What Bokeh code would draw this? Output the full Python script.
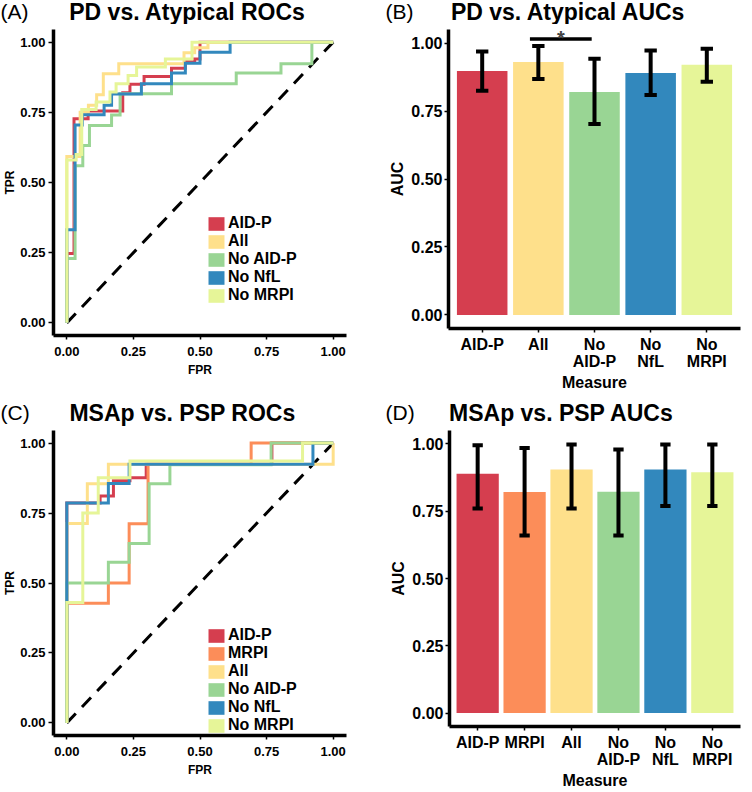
from bokeh.plotting import figure
from bokeh.layouts import row, column
from bokeh.models import (Label, Legend, LegendItem, FixedTicker,
                          ColumnDataSource, Range1d)
from bokeh.embed import file_html
from bokeh.resources import INLINE

FONT = "Liberation Sans"
NAN = float("nan")

# ---------------- data ----------------
tick_values = [0.0, 0.25, 0.5, 0.75, 1.0]
tick_labels = ["0.00", "0.25", "0.50", "0.75", "1.00"]

colors = {"AID-P": "#D53E4F", "MRPI": "#FC8D59", "All": "#FEE08B",
          "No AID-P": "#99D594", "No NfL": "#3288BD", "No MRPI": "#E6F598"}

diag = [0.0, 1.0]

# Panel A: PD vs. Atypical ROC curves (step vertices)
a_order = ["AID-P", "All", "No AID-P", "No NfL", "No MRPI"]
a_aidp_fpr = [0, 0, 0.027, 0.027, 0.08, 0.08, 0.21, 0.21, 0.237, 0.237, 0.29, 0.29, 0.393, 0.393, 0.445, 0.445, 0.48, 0.48, 0.5, 0.5, 1.0]
a_aidp_tpr = [0, 0.247, 0.247, 0.727, 0.727, 0.755, 0.755, 0.82, 0.82, 0.85, 0.85, 0.878, 0.878, 0.907, 0.907, 0.93, 0.93, 0.94, 0.94, 1.0, 1.0]
a_all_fpr = [0, 0, 0.05, 0.05, 0.081, 0.081, 0.112, 0.112, 0.137, 0.137, 0.195, 0.195, 0.44, 0.44, 0.48, 0.48, 0.53, 0.53, 1.0]
a_all_tpr = [0, 0.593, 0.593, 0.75, 0.75, 0.775, 0.775, 0.813, 0.813, 0.887, 0.887, 0.923, 0.923, 0.962, 0.962, 0.98, 0.98, 1.0, 1.0]
a_noaidp_fpr = [0, 0, 0.031, 0.031, 0.06, 0.06, 0.085, 0.085, 0.168, 0.168, 0.2, 0.2, 0.393, 0.393, 0.636, 0.636, 0.804, 0.804, 0.92, 0.92, 1.0]
a_noaidp_tpr = [0, 0.229, 0.229, 0.56, 0.56, 0.632, 0.632, 0.703, 0.703, 0.74, 0.74, 0.816, 0.816, 0.852, 0.852, 0.89, 0.89, 0.923, 0.923, 1.0, 1.0]
a_nonfl_fpr = [0, 0, 0.031, 0.031, 0.058, 0.058, 0.14, 0.14, 0.168, 0.168, 0.28, 0.28, 0.393, 0.393, 0.445, 0.445, 0.5, 0.5, 0.613, 0.613, 1.0]
a_nonfl_tpr = [0, 0.332, 0.332, 0.705, 0.705, 0.741, 0.741, 0.775, 0.775, 0.815, 0.815, 0.852, 0.852, 0.89, 0.89, 0.925, 0.925, 0.964, 0.964, 1.0, 1.0]
a_nomrpi_fpr = [0, 0, 0.035, 0.035, 0.056, 0.056, 0.11, 0.11, 0.162, 0.162, 0.185, 0.185, 0.23, 0.23, 0.262, 0.262, 0.37, 0.37, 0.47, 0.47, 1.0]
a_nomrpi_tpr = [0, 0.58, 0.58, 0.6, 0.6, 0.76, 0.76, 0.787, 0.787, 0.822, 0.822, 0.852, 0.852, 0.881, 0.881, 0.911, 0.911, 0.94, 0.94, 1.0, 1.0]

# Panel C: MSAp vs. PSP ROC curves (step vertices)
c_order = ["AID-P", "MRPI", "All", "No AID-P", "No NfL", "No MRPI"]
c_aidp_fpr = [0, 0, 0.125, 0.125, 0.175, 0.175, 0.237, 0.237, 0.298, 0.298, 0.77, 0.77, 1.0]
c_aidp_tpr = [0, 0.786, 0.786, 0.811, 0.811, 0.865, 0.865, 0.876, 0.876, 0.924, 0.924, 1.0, 1.0]
c_mrpi_fpr = [0, 0, 0.156, 0.156, 0.234, 0.234, 0.305, 0.305, 0.692, 0.692, 1.0]
c_mrpi_tpr = [0, 0.428, 0.428, 0.5, 0.5, 0.712, 0.712, 0.924, 0.924, 1.0, 1.0]
c_all_fpr = [0, 0, 0.077, 0.077, 0.156, 0.156, 1.0, 1.0]
c_all_tpr = [0, 0.713, 0.713, 0.855, 0.855, 0.924, 0.924, 1.0]
c_noaidp_fpr = [0, 0, 0.156, 0.156, 0.234, 0.234, 0.309, 0.309, 0.387, 0.387, 0.767, 0.767, 1.0]
c_noaidp_tpr = [0, 0.5, 0.5, 0.574, 0.574, 0.641, 0.641, 0.855, 0.855, 0.923, 0.923, 1.0, 1.0]
c_nonfl_fpr = [0, 0, 0.156, 0.156, 0.234, 0.234, 0.924, 0.924, 1.0]
c_nonfl_tpr = [0, 0.786, 0.786, 0.856, 0.856, 0.924, 0.924, 1.0, 1.0]
c_nomrpi_fpr = [0, 0, 0.06, 0.06, 0.118, 0.118, 0.237, 0.237, 0.885, 0.885, 1.0]
c_nomrpi_tpr = [0, 0.43, 0.43, 0.75, 0.75, 0.876, 0.876, 0.936, 0.936, 1.0, 1.0]

# Panel B: PD vs. Atypical AUCs
b_measures = ["AID-P", "All", "No AID-P", "No NfL", "No MRPI"]
b_labels = ["AID-P", "All", "No\nAID-P", "No\nNfL", "No\nMRPI"]
b_auc = [0.897, 0.930, 0.820, 0.890, 0.920]
b_lower = [0.825, 0.868, 0.702, 0.809, 0.858]
b_upper = [0.969, 0.989, 0.942, 0.973, 0.979]
b_sig_from, b_sig_to, b_sig_y, b_sig_text = 1.85, 2.95, 1.015, "*"

# Panel D: MSAp vs. PSP AUCs
d_measures = ["AID-P", "MRPI", "All", "No AID-P", "No NfL", "No MRPI"]
d_labels = ["AID-P", "MRPI", "All", "No\nAID-P", "No\nNfL", "No\nMRPI"]
d_auc = [0.889, 0.821, 0.905, 0.822, 0.905, 0.895]
d_lower = [0.760, 0.660, 0.760, 0.660, 0.769, 0.769]
d_upper = [0.995, 0.985, 0.998, 0.979, 0.998, 0.998]


def style_axes(p, tick_size, label_size, tick_out=4, std=2):
    for ax in (p.xaxis, p.yaxis):
        ax.axis_line_width = 3.5
        ax.axis_line_color = "black"
        ax.major_tick_line_color = "black"
        ax.major_tick_line_width = 1.5
        ax.major_tick_out = tick_out
        ax.major_tick_in = 0
        ax.minor_tick_line_color = None
        ax.major_label_text_font = FONT
        ax.major_label_text_font_style = "bold"
        ax.major_label_text_font_size = tick_size
        ax.major_label_text_color = "black"
        ax.axis_label_text_font = FONT
        ax.axis_label_text_font_style = "bold"
        ax.axis_label_text_font_size = label_size
        ax.axis_label_text_color = "black"
        ax.major_label_standoff = std
    p.xgrid.visible = False
    p.ygrid.visible = False
    p.outline_line_color = None
    p.yaxis.ticker = FixedTicker(ticks=tick_values)
    p.yaxis.major_label_overrides = {v: t for v, t in zip(tick_values, tick_labels)}


def heading(width, height, letter, title, lx, ly, tx, ty):
    """A strip (figure without axes) that carries the panel letter and title."""
    h = figure(width=width, height=height, min_border=0, toolbar_location=None,
               x_axis_location=None, y_axis_location=None, output_backend="svg",
               x_range=Range1d(0, 1), y_range=Range1d(0, 1))
    h.xgrid.visible = False
    h.ygrid.visible = False
    h.outline_line_color = None
    h.add_layout(Label(x=lx, y=ly, x_units="canvas", y_units="canvas", text=letter,
                       text_font=FONT, text_font_size="21px", text_align="left",
                       text_baseline="middle", text_color="black"))
    h.add_layout(Label(x=tx, y=ty, x_units="canvas", y_units="canvas", text=title,
                       text_font=FONT, text_font_size="23px", text_font_style="bold",
                       text_align="center", text_baseline="middle", text_color="black"))
    return h


def roc_panel(curves, order, borders, frame, legend_loc):
    left, right, top, bottom = borders
    p = figure(frame_width=frame[0], frame_height=frame[1],
               min_border_left=left, min_border_right=right,
               min_border_top=top, min_border_bottom=bottom,
               x_range=Range1d(-0.05, 1.05), y_range=Range1d(-0.045, 1.045),
               output_backend="svg", toolbar_location=None,
               x_axis_label="FPR", y_axis_label="TPR")
    style_axes(p, "13px", "12px", tick_out=5, std=3)
    p.xaxis.ticker = FixedTicker(ticks=tick_values)
    p.xaxis.major_label_overrides = {v: t for v, t in zip(tick_values, tick_labels)}
    p.xaxis.major_tick_out = 4
    p.xaxis.major_label_standoff = 7
    p.xaxis.axis_label_standoff = 4
    p.yaxis.axis_label_standoff = 0
    p.line(diag, diag, line_color="black", line_width=3, line_dash="13 9")
    items = []
    for name in order:
        fpr, tpr = curves[name]
        p.line(fpr, tpr, line_color=colors[name], line_width=3, line_join="miter")
        r = p.quad(left=[NAN], right=[NAN], top=[NAN], bottom=[NAN],
                   fill_color=colors[name], line_color=None)
        items.append(LegendItem(label=name, renderers=[r]))
    leg = Legend(items=items, location=legend_loc, background_fill_alpha=0,
                 border_line_alpha=0, padding=0, margin=0, spacing=0,
                 glyph_width=20, glyph_height=17, label_height=17,
                 label_standoff=2, label_text_font=FONT, label_text_font_style="bold",
                 label_text_font_size="16px", label_text_color="black",
                 label_text_baseline="middle")
    p.add_layout(leg)
    return p


def auc_panel(measures, labels, auc, lower, upper, borders, frame, sig=None):
    left, right, top, bottom = borders
    n = len(measures)
    xs = list(range(1, n + 1))
    p = figure(frame_width=frame[0], frame_height=frame[1],
               min_border_left=left, min_border_right=right,
               min_border_top=top, min_border_bottom=bottom,
               x_range=Range1d(0.4, n + 0.6), y_range=Range1d(-0.05, 1.05),
               output_backend="svg", toolbar_location=None,
               x_axis_label="Measure", y_axis_label="AUC")
    style_axes(p, "16px", "16px", tick_out=4, std=2)
    p.xaxis.ticker = FixedTicker(ticks=xs)
    p.xaxis.major_label_overrides = {x: lab for x, lab in zip(xs, labels)}
    p.xaxis.major_label_text_line_height = 1.05
    p.xaxis.major_label_standoff = 3
    p.xaxis.axis_label_standoff = 1
    p.yaxis.axis_label_standoff = 2
    cap = 0.11
    src = ColumnDataSource(dict(x=xs, auc=auc, lo=lower, hi=upper,
                                xl=[x - cap for x in xs], xr=[x + cap for x in xs],
                                color=[colors[m] for m in measures]))
    p.vbar(x="x", top="auc", bottom=0, width=0.9, fill_color="color", line_color=None, source=src)
    p.segment(x0="x", x1="x", y0="lo", y1="hi", line_color="black", line_width=4, source=src)
    p.segment(x0="xl", x1="xr", y0="lo", y1="lo", line_color="black", line_width=4, source=src)
    p.segment(x0="xl", x1="xr", y0="hi", y1="hi", line_color="black", line_width=4, source=src)
    if sig is not None:
        x0, x1, y, txt = sig
        p.line([x0, x1], [y, y], line_color="black", line_width=3.5)
        p.add_layout(Label(x=(x0 + x1) / 2, y=y + 0.004, text=txt, text_font=FONT,
                           text_font_size="20px", text_font_style="bold",
                           text_align="center", text_baseline="middle"))
    return p


a_curves = {"AID-P": (a_aidp_fpr, a_aidp_tpr), "All": (a_all_fpr, a_all_tpr),
            "No AID-P": (a_noaidp_fpr, a_noaidp_tpr), "No NfL": (a_nonfl_fpr, a_nonfl_tpr),
            "No MRPI": (a_nomrpi_fpr, a_nomrpi_tpr)}
c_curves = {"AID-P": (c_aidp_fpr, c_aidp_tpr), "MRPI": (c_mrpi_fpr, c_mrpi_tpr),
            "All": (c_all_fpr, c_all_tpr), "No AID-P": (c_noaidp_fpr, c_noaidp_tpr),
            "No NfL": (c_nonfl_fpr, c_nonfl_tpr), "No MRPI": (c_nomrpi_fpr, c_nomrpi_tpr)}

hA = heading(372, 24, "(A)", "PD vs. Atypical ROCs", 0, 11, 187, 11)
hB = heading(372, 24, "(B)", "PD vs. Atypical AUCs", 13, 11, 196, 11)
hC = heading(372, 34, "(C)", "MSAp vs. PSP ROCs", 0, 20, 182, 20)
hD = heading(372, 34, "(D)", "MSAp vs. PSP AUCs", 13, 20, 189, 20)

pA = roc_panel(a_curves, a_order, (49, 30, 5, 57), (293, 306), (153, 31))
pB = auc_panel(b_measures, b_labels, b_auc, b_lower, b_upper, (72, 8, 1, 68), (292, 299),
               sig=(b_sig_from, b_sig_to, b_sig_y, b_sig_text))
pC = roc_panel(c_curves, c_order, (49, 30, 4, 49), (293, 305), (153, 1))
pD = auc_panel(d_measures, d_labels, d_auc, d_lower, d_upper, (73, 8, 0, 62), (291, 296))

layout = column(row(hA, hB), row(pA, pB), row(hC, hD), row(pC, pD))
open("out.html", "w").write(file_html(layout, INLINE))
